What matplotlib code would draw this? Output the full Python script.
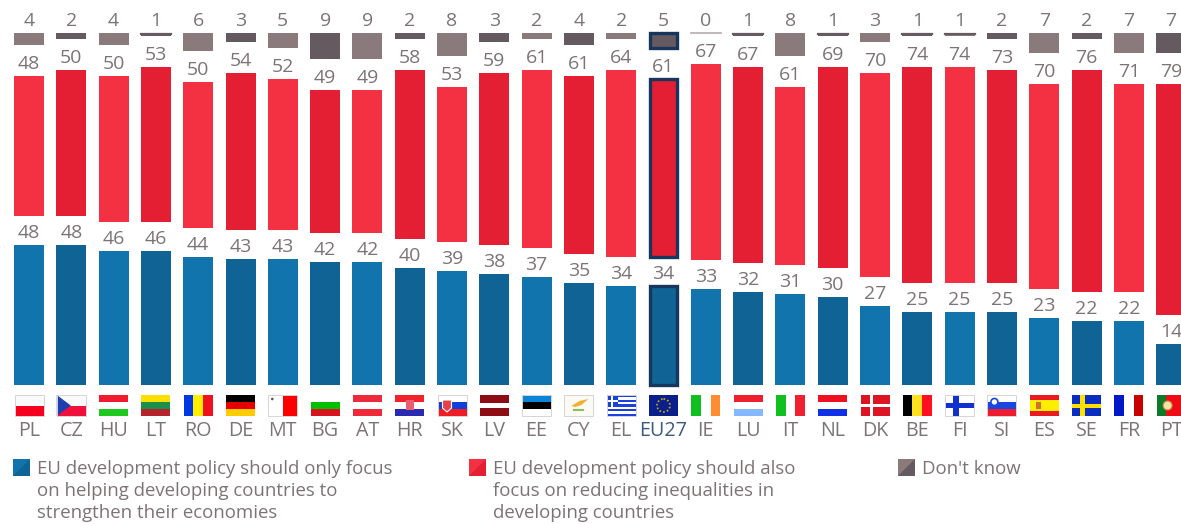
import matplotlib
matplotlib.use("Agg")
import matplotlib.pyplot as plt
from matplotlib.patches import Rectangle, Polygon, Circle

countries = ["PL","CZ","HU","LT","RO","DE","MT","BG","AT","HR","SK","LV","EE","CY","EL","EU27","IE","LU","IT","NL","DK","BE","FI","SI","ES","SE","FR","PT"]
economy = [48,48,46,46,44,43,43,42,42,40,39,38,37,35,34,34,33,32,31,30,27,25,25,25,23,22,22,14]
inequality = [48,50,50,53,50,54,52,49,49,58,53,59,61,61,64,61,67,67,61,69,70,74,74,73,70,76,71,79]
dont_know = [4,2,4,1,6,3,5,9,9,2,8,3,2,4,2,5,0,1,8,1,3,1,1,2,7,2,7,7]
legend_economy = "EU development policy should only focus\non helping developing countries to\nstrengthen their economies"
legend_inequality = "EU development policy should also\nfocus on reducing inequalities in\ndeveloping countries"
legend_dk = "Don't know"

W, H = 1181, 524
plt.rcParams["font.family"] = ["Open Sans", "DejaVu Sans"]
TXT = "#7d7375"
NAVY = "#17365d"
BLUE = ("#1274ad", "#0f6495")
RED = ("#f33143", "#e41f33")
GRAY = ("#8a7a7c", "#645a60")

fig = plt.figure(figsize=(W/100, H/100), dpi=100, facecolor="white")

# Bars live in value units: one unit is 2.92 px, baseline at y=385 px, 42.3 px between columns.
UNIT, BASE, STEP, X0 = 2.92, 385, 42.3, 29
ax = fig.add_axes([0, 0, 1, 1])
ax.set_xlim((0-X0)/STEP, (W-X0)/STEP)
ax.set_ylim((BASE-H)/UNIT, BASE/UNIT)
ax.axis("off")

gap = 31/UNIT
top = (BASE-33)/UNIT
bw = 30/STEP
lift = 3/UNIT
for i, (b, r, g) in enumerate(zip(economy, inequality, dont_know)):
    shade = i % 2
    eu = countries[i] == "EU27"
    ec = NAVY if eu else "none"
    lw = 2.4 if eu else 0
    gb = top - g
    rb = gb - gap - r
    bk = dict(width=bw*(0.88 if eu else 1), edgecolor=ec, linewidth=lw, align="center")
    ax.bar(i, b, bottom=0, color=BLUE[shade], **bk)
    ax.bar(i, r, bottom=rb, color=RED[shade], **bk)
    if g > 0:
        ax.bar(i, g, bottom=gb, color=GRAY[shade], **bk)
    else:
        ax.plot([i-bw/2, i+bw/2], [top, top], color="#b5aaac", lw=1.2)
    if g == 1:
        ax.plot([i-bw/2, i+bw/2], [top-.5, top-.5], color=GRAY[1], lw=1.6)
    lab = dict(ha="center", va="bottom", color=TXT, fontsize=14)
    ax.text(i, b+lift, str(b), **lab)
    ax.text(i, rb+r+lift, str(r), **lab)
    ax.text(i, top+lift, str(g), **lab)

# Overlay in pixel coordinates for the flags, column codes and legend.
ov = fig.add_axes([0, 0, 1, 1], facecolor="none")
ov.set_xlim(0, W); ov.set_ylim(H, 0); ov.axis("off")

FY, FW, FH = 395, 29, 21

def bands(x, cols, vertical=False):
    n = len(cols)
    for k, c in enumerate(cols):
        if vertical:
            ov.add_patch(Rectangle((x+k*FW/n, FY), FW/n, FH, color=c, lw=0))
        else:
            ov.add_patch(Rectangle((x, FY+k*FH/n), FW, FH/n, color=c, lw=0))

def flag(code, x):
    h = dict(PL=["#fafafa","#f5001e"], HU=["#f01c2e","#ffffff","#1fc81f"], LT=["#fde000","#1a9048","#b5232d"],
             DE=["#000000","#e60000","#ffcc00"], BG=["#ffffff","#00c000","#d8141e"], AT=["#ee2a3a","#ffffff","#ee2a3a"],
             HR=["#f0232d","#ffffff","#2a2ab0"], SK=["#ffffff","#1040d8","#ee1c25"], EE=["#0a84d8","#000000","#ffffff"],
             LU=["#ee2030","#ffffff","#86b8ff"], NL=["#ee1020","#ffffff","#1030e8"], SI=["#ffffff","#1848e0","#ee1c30"])
    v = dict(RO=["#0038e0","#ffee00","#f01020"], IE=["#10c020","#ffffff","#ff8c30"], IT=["#10c020","#ffffff","#f02030"],
             BE=["#000000","#ffe020","#ff1020"], FR=["#0018c8","#ffffff","#c80000"])
    if code in h:
        bands(x, h[code])
    elif code in v:
        bands(x, v[code], True)
    elif code == "CZ":
        bands(x, ["#fafafa", "#f0103c"])
        ov.add_patch(Polygon([(x, FY), (x+14, FY+FH/2), (x, FY+FH)], color="#1f3fb0", lw=0))
    elif code == "MT":
        bands(x, ["#ffffff", "#ff0000"], True)
        ov.add_patch(Circle((x+4, FY+4), 1.3, color="#555555", lw=0))
    elif code == "LV":
        bands(x, ["#8e0c14", "#8e0c14", "#ffffff", "#8e0c14", "#8e0c14"])
    elif code == "CY":
        bands(x, ["#fbfaf5"])
        ov.add_patch(Polygon([(x+7, FY+11), (x+15, FY+6), (x+24, FY+4), (x+17, FY+10), (x+11, FY+12)], color="#f0b030", lw=0))
        ov.plot([x+10, x+19], [FY+15, FY+15], color="#88c060", lw=1.5)
    elif code == "EL":
        bands(x, ["#1c3fe0", "#ffffff"]*4 + ["#1c3fe0"])
        ov.add_patch(Rectangle((x, FY), 11, 11.5, color="#1c3fe0", lw=0))
        ov.add_patch(Rectangle((x+4.2, FY), 2.4, 11.5, color="#ffffff", lw=0))
        ov.add_patch(Rectangle((x, FY+4.6), 11, 2.3, color="#ffffff", lw=0))
    elif code == "EU27":
        bands(x, ["#0a1f8c"])
        ov.add_patch(Circle((x+FW/2, FY+FH/2), 6.5, fc="none", ec="#c8b400", lw=1.2, ls=(0, (1, 1.3))))
    elif code == "DK":
        bands(x, ["#dc1423"])
        ov.add_patch(Rectangle((x+9, FY), 3, FH, color="#ffffff", lw=0))
        ov.add_patch(Rectangle((x, FY+9), FW, 3, color="#ffffff", lw=0))
    elif code == "FI":
        bands(x, ["#ffffff"])
        ov.add_patch(Rectangle((x+8, FY), 5.5, FH, color="#1030d0", lw=0))
        ov.add_patch(Rectangle((x, FY+8), FW, 5, color="#1030d0", lw=0))
    elif code == "ES":
        bands(x, ["#e81c20", "#ffee00", "#ffee00", "#e81c20"])
        ov.add_patch(Rectangle((x+6, FY+7), 5, 7, color="#d07030", lw=0))
    elif code == "SE":
        bands(x, ["#0a2cc0"])
        ov.add_patch(Rectangle((x+8, FY), 4.5, FH, color="#ffe000", lw=0))
        ov.add_patch(Rectangle((x, FY+8.5), FW, 4, color="#ffe000", lw=0))
    elif code == "PT":
        bands(x, ["#0c7a28", "#f00a14", "#f00a14"], True)
        ov.add_patch(Circle((x+11, FY+10.5), 4.5, fc="#f4e0b0", ec="#c09030", lw=0.8))
    # Coats of arms reduced to small shields
    if code == "HR":
        ov.add_patch(Rectangle((x+10.5, FY+5), 8, 10, color="#e86070", lw=0))
    if code == "SK":
        ov.add_patch(Polygon([(x+5, FY+5), (x+14, FY+5), (x+14, FY+13), (x+9.5, FY+17), (x+5, FY+13)], fc="#e8404a", ec="white", lw=0.8))
    if code == "SI":
        ov.add_patch(Circle((x+7, FY+7), 3.5, fc="#ffffff", ec="#1848e0", lw=1.2))
    if code in ("PL", "CZ", "MT", "CY", "FI", "SI", "SK", "EE", "EL"):
        ov.add_patch(Rectangle((x, FY), FW, FH, fc="none", ec="#d8d4d4", lw=0.7))

for i, code in enumerate(countries):
    cx = X0 + STEP*i
    flag(code, cx-FW/2)
    ov.text(cx, 431, code, ha="center", va="center", fontsize=14.2,
            color="#3c5a80" if code == "EU27" else TXT)

def legend_item(x, cols, text):
    ov.add_patch(Rectangle((x, 459), 17, 17, color=cols[0], lw=0))
    ov.add_patch(Polygon([(x+17, 459), (x+17, 476), (x, 476)], color=cols[1], lw=0))
    ov.text(x+24, 460, text, ha="left", va="top", fontsize=13.45, color=TXT, linespacing=1.29)

legend_item(13, BLUE, legend_economy)
legend_item(469, RED, legend_inequality)
legend_item(898, GRAY, legend_dk)

fig.savefig("out.png", dpi=100, facecolor="white")
